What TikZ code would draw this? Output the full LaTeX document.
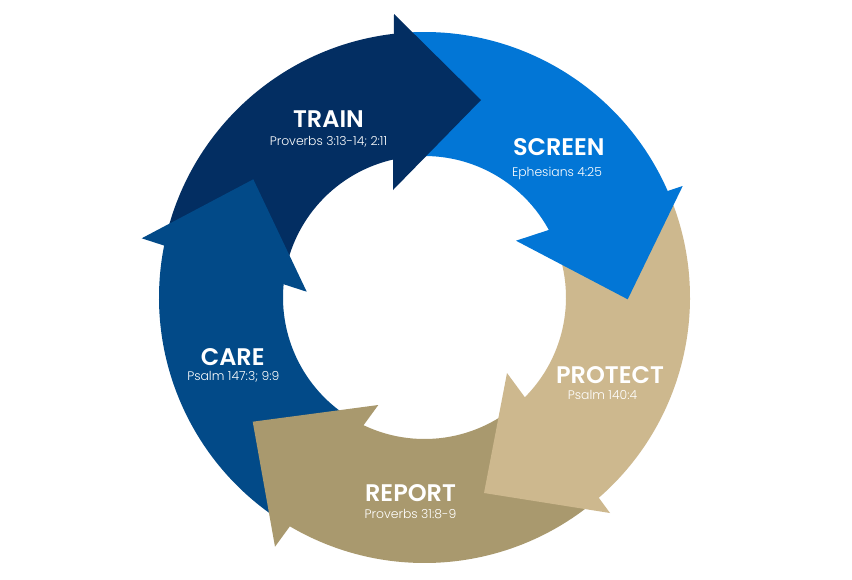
\documentclass[tikz,border=0pt]{standalone}
\usepackage{fontspec}
\setmainfont{Poppins}[BoldFont={Poppins SemiBold}]
\newfontfamily\poplight{Poppins Light}
\definecolor{trainc}{RGB}{3,46,98}
\definecolor{screenc}{RGB}{2,118,214}
\definecolor{protectc}{RGB}{205,184,142}
\definecolor{reportc}{RGB}{169,153,110}
\definecolor{carec}{RGB}{2,74,136}
\tikzset{
  ttl/.style={text=white, inner sep=0pt, anchor=base, font=\fontsize{18}{22}\selectfont\bfseries},
  sub/.style={text=white, inner sep=0pt, anchor=base, font=\poplight\fontsize{9.3}{11}\selectfont},
}
\begin{document}
\begin{tikzpicture}[x=0.75pt,y=0.75pt]
\useasboundingbox (0,0) rectangle (852,-579);
\fill[white] (0,0) rectangle (852,-579);
\begin{scope}[shift={(424.5,-297.5)}]
  % bands
  \fill[trainc] (167:265.5) arc[start angle=167, end angle=95, radius=265.5] -- (95:141.5) arc[start angle=95, end angle=167, radius=141.5] -- cycle;
  \fill[screenc] (95:265.5) arc[start angle=95, end angle=22.5, radius=265.5] -- (22.5:141.5) arc[start angle=22.5, end angle=95, radius=141.5] -- cycle;
  \fill[protectc] (22.5:265.5) arc[start angle=22.5, end angle=-50.5, radius=265.5] -- (-50.5:141.5) arc[start angle=-50.5, end angle=22.5, radius=141.5] -- cycle;
  \fill[reportc] (-50.5:265.5) arc[start angle=-50.5, end angle=-122, radius=265.5] -- (-122:141.5) arc[start angle=-122, end angle=-50.5, radius=141.5] -- cycle;
  \fill[carec] (-122:265.5) arc[start angle=-122, end angle=-193, radius=265.5] -- (-193:141.5) arc[start angle=-193, end angle=-122, radius=141.5] -- cycle;
  % heads
  \fill[trainc] (-30.5,283.5) -- (56.5,197.5) -- (-31.5,107.5) -- cycle;
  \fill[screenc] (258.2,111.5) -- (203.2,-1.8) -- (91.5,56.8) -- cycle;
  \fill[protectc] (185.5,-215.5) -- (59.5,-195.5) -- (82.5,-75.5) -- cycle;
  \fill[reportc] (-149.5,-249.2) -- (-171.8,-124.2) -- (-46.2,-107.5) -- cycle;
  \fill[carec] (-282.8,59.2) -- (-171.2,118.2) -- (-117.8,5.8) -- cycle;
\end{scope}
% labels
\node[ttl] (train) at (328.5,-127) {TRAIN};
\node[sub] (trainv) at (328.5,-145) {Proverbs 3:13-14; 2:11};
\node[ttl] (screen) at (558.8,-155) {SCREEN};
\node[sub] (screenv) at (557,-176) {Ephesians 4:25};
\node[ttl] (care) at (232.7,-365) {CARE};
\node[sub] (carev) at (233.3,-380) {Psalm 147:3; 9:9};
\node[ttl] (protect) at (610,-383.3) {PROTECT};
\node[sub] (protectv) at (602.5,-399) {Psalm 140:4};
\node[ttl] (report) at (410.5,-501.7) {REPORT};
\node[sub] (reportv) at (410.5,-518) {Proverbs 31:8-9};
\end{tikzpicture}
\end{document}
